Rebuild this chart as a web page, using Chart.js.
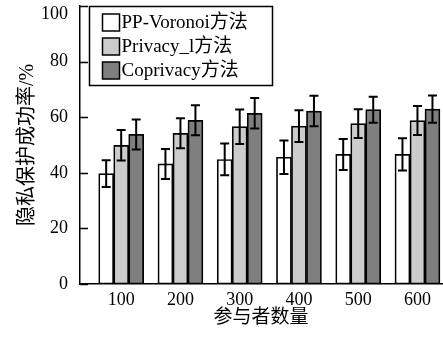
<!DOCTYPE html>
<html lang="zh">
<head>
  <meta charset="UTF-8">
  <title>隐私保护成功率</title>
  <script src="https://cdn.jsdelivr.net/npm/chart.js"></script>
  <style>
    * { margin: 0; padding: 0; box-sizing: border-box; }
    body { background: #fff; width: 443px; height: 343px; overflow: hidden; }
    #wrap { width: 443px; height: 343px; position: relative; }
  </style>
</head>
<body>
  <div id="wrap"><canvas id="chart"></canvas></div>
  <script>
    // data
    const participants = [100, 200, 300, 400, 500, 600];
    const seriesNames = ['PP-Voronoi方法', 'Privacy_l方法', 'Coprivacy方法'];
    const voronoi = [39.7, 43.2, 44.8, 45.6, 46.6, 46.6];
    const voronoiErr = [4.8, 5.4, 5.7, 6.0, 5.6, 5.8];
    const privacyL = [49.9, 54.2, 56.6, 56.8, 57.7, 58.8];
    const privacyLErr = [5.5, 5.4, 6.2, 5.7, 5.2, 5.2];
    const coprivacy = [53.8, 58.9, 61.4, 62.2, 62.7, 62.9];
    const coprivacyErr = [5.4, 5.4, 5.5, 5.5, 4.7, 4.9];
    const yTicks = [0, 20, 40, 60, 80, 100];

    const FONT = "'Liberation Serif', 'Noto Sans CJK SC', serif";
    const fills = ['#ffffff', '#cccccc', '#7f7f7f'];
    const errs = [voronoiErr, privacyLErr, coprivacyErr];

    function toPoints(arr) {
      return arr.map((v, i) => ({ x: participants[i], y: v }));
    }

    // error bars drawn from the y scale
    const errorBars = {
      id: 'errorBars',
      afterDatasetsDraw(chart) {
        const ctx = chart.ctx;
        const y = chart.scales.y;
        ctx.save();
        ctx.strokeStyle = '#000';
        ctx.lineWidth = 2;
        chart.data.datasets.forEach((ds, di) => {
          const meta = chart.getDatasetMeta(di);
          meta.data.forEach((bar, i) => {
            const v = ds.data[i].y;
            const e = errs[di][i];
            const top = y.getPixelForValue(v + e);
            const bot = y.getPixelForValue(v - e);
            ctx.beginPath();
            ctx.moveTo(bar.x, top); ctx.lineTo(bar.x, bot);
            ctx.moveTo(bar.x - 4.5, top); ctx.lineTo(bar.x + 4.5, top);
            ctx.moveTo(bar.x - 4.5, bot); ctx.lineTo(bar.x + 4.5, bot);
            ctx.stroke();
          });
        });
        ctx.restore();
      }
    };

    // inward tick marks on the y axis, plus the top label which sits below its tick
    const innerTicks = {
      id: 'innerTicks',
      afterDraw(chart) {
        const ctx = chart.ctx;
        const y = chart.scales.y;
        const left = chart.chartArea.left;
        ctx.save();
        ctx.strokeStyle = '#000';
        ctx.lineWidth = 1.5;
        y.ticks.forEach(t => {
          const py = Math.round(y.getPixelForValue(t.value)) + 0.5;
          ctx.beginPath();
          ctx.moveTo(left, py); ctx.lineTo(left + 8, py);
          ctx.stroke();
        });
        const topVal = yTicks[yTicks.length - 1];
        ctx.fillStyle = '#000';
        ctx.font = '18px ' + FONT;
        ctx.textAlign = 'right';
        ctx.textBaseline = 'middle';
        ctx.fillText(String(topVal), y.right - 12, y.getPixelForValue(topVal) + 8);
        ctx.restore();
      }
    };

    // boxed legend in the top-left of the plot
    const boxLegend = {
      id: 'boxLegend',
      afterDraw(chart) {
        const ctx = chart.ctx;
        const a = chart.chartArea;
        const x0 = a.left + 9.5, y0 = a.top + 0.5;
        const w = 183, h = 79;
        ctx.save();
        ctx.fillStyle = '#fff';
        ctx.fillRect(x0, y0, w, h);
        ctx.strokeStyle = '#000';
        ctx.lineWidth = 1.5;
        ctx.strokeRect(x0, y0, w, h);
        ctx.font = '19px ' + FONT;
        ctx.textBaseline = 'middle';
        chart.data.datasets.forEach((ds, i) => {
          const cy = y0 + 16 + i * 24;
          ctx.fillStyle = ds.backgroundColor;
          ctx.fillRect(x0 + 13, cy - 8.5, 17, 17);
          ctx.strokeRect(x0 + 13, cy - 8.5, 17, 17);
          ctx.fillStyle = '#000';
          ctx.fillText(ds.label, x0 + 32, cy + 1);
        });
        ctx.restore();
      }
    };

    const datasets = [voronoi, privacyL, coprivacy].map((arr, i) => ({
      label: seriesNames[i],
      data: toPoints(arr),
      backgroundColor: fills[i],
      borderColor: '#000',
      borderWidth: 1.7,
      borderSkipped: false,
      barThickness: 15
    }));

    new Chart(document.getElementById('chart'), {
      type: 'bar',
      data: { datasets },
      options: {
        responsive: true,
        maintainAspectRatio: false,
        animation: false,
        layout: { padding: { top: 6, right: 1, left: 0, bottom: 0 } },
        plugins: {
          legend: { display: false },
          tooltip: { enabled: false }
        },
        scales: {
          x: {
            type: 'linear',
            offset: false,
            min: 30.5,
            max: 641.4,
            afterBuildTicks: axis => { axis.ticks = participants.map(v => ({ value: v })); },
            afterFit: axis => { axis.height = 59; axis.paddingLeft = 0; axis.paddingRight = 0; },
            grid: { display: false, drawTicks: false, offset: false },
            border: { display: true, color: '#000', width: 1.5 },
            ticks: {
              color: '#000',
              font: { family: FONT, size: 18 },
              padding: 5,
              maxRotation: 0
            },
            title: {
              display: true,
              text: '参与者数量',
              color: '#000',
              font: { family: FONT, size: 19 },
              padding: { top: 0, bottom: 14 }
            }
          },
          y: {
            min: 0,
            max: 100,
            afterBuildTicks: axis => { axis.ticks = yTicks.map(v => ({ value: v })); },
            afterFit: axis => { axis.width = 80; axis.paddingTop = 0; axis.paddingBottom = 0; },
            grid: { display: false, drawTicks: false },
            border: { display: true, color: '#000', width: 1.5 },
            ticks: {
              color: '#000',
              font: { family: FONT, size: 18 },
              padding: 12,
              callback: v => (v === yTicks[yTicks.length - 1] ? '' : String(v))
            },
            title: {
              display: true,
              text: '隐私保护成功率/%',
              color: '#000',
              font: { family: FONT, size: 20 },
              padding: { top: 16, bottom: 0 }
            }
          }
        }
      },
      plugins: [errorBars, innerTicks, boxLegend]
    });
  </script>
</body>
</html>
